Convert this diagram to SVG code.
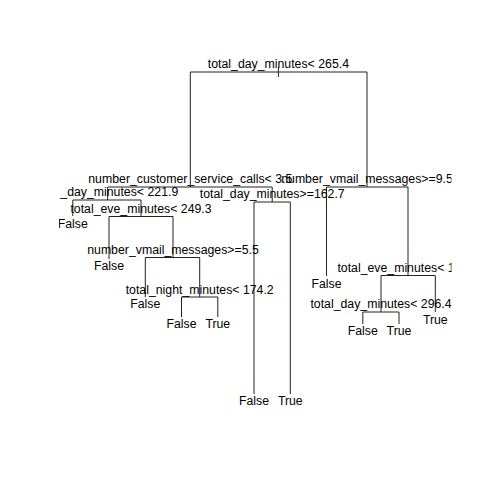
<svg xmlns="http://www.w3.org/2000/svg" width="480" height="480" viewBox="0 0 480 480">
<defs>
<style>
text{font-family:"Liberation Sans",Arial,sans-serif;font-size:12.3px;fill:#000;text-anchor:middle}
.c path{fill:none;stroke:#222;stroke-width:1}
</style>
<clipPath id="plot"><rect x="59" y="59" width="392.5" height="348"/></clipPath>
</defs>
<rect width="480" height="480" fill="#fff"/>
<g clip-path="url(#plot)">
<g id="connectors" class="c">
<path d="M278.4,67V77"/>
<path d="M190.3,187V72H367V187"/>
<path d="M107.6,200V187H272.2V202"/>
<path d="M326.5,276V187H408V275.5"/>
<path d="M72.8,216V200H141V216.5"/>
<path d="M254,394V202H290.3V394"/>
<path d="M109,259V216.5H173V257.5"/>
<path d="M145.3,297V257.5H199.7V297"/>
<path d="M181.5,317V297H217.8V317"/>
<path d="M381,312V275.5H435.3V312"/>
<path d="M362.8,324V312H399V324"/>
</g>
<g id="n1"><text x="278.4" y="68">total_day_minutes&lt; 265.4</text></g>
<g id="n2"><text x="190.3" y="183">number_customer_service_calls&lt; 3.5</text></g>
<g id="n3"><text x="367" y="183">number_vmail_messages&gt;=9.5</text></g>
<g id="n4"><text x="60.3" y="196" style="text-anchor:start">_day_minutes&lt; 221.9</text></g>
<g id="n5"><text x="272.2" y="198">total_day_minutes&gt;=162.7</text></g>
<g id="n8"><text x="72.8" y="228.3">False</text></g>
<g id="n9"><text x="141" y="212.5">total_eve_minutes&lt; 249.3</text></g>
<g id="n18"><text x="109" y="269.8">False</text></g>
<g id="n19"><text x="173" y="253.5">number_vmail_messages&gt;=5.5</text></g>
<g id="n38"><text x="145.3" y="307.8">False</text></g>
<g id="n39"><text x="199.7" y="293.5">total_night_minutes&lt; 174.2</text></g>
<g id="n78"><text x="181.5" y="327.8">False</text></g>
<g id="n79"><text x="217.8" y="327.8">True</text></g>
<g id="n10"><text x="254" y="405.3">False</text></g>
<g id="n11"><text x="290.3" y="405.3">True</text></g>
<g id="n6"><text x="326.5" y="287.8">False</text></g>
<g id="n7"><text x="337.4" y="271.5" style="text-anchor:start">total_eve_minutes&lt; 1</text></g>
<g id="n14"><text x="381" y="308">total_day_minutes&lt; 296.4</text></g>
<g id="n15"><text x="435.3" y="324.3">True</text></g>
<g id="n28"><text x="362.8" y="335.3">False</text></g>
<g id="n29"><text x="399" y="335.3">True</text></g>
</g>
</svg>
